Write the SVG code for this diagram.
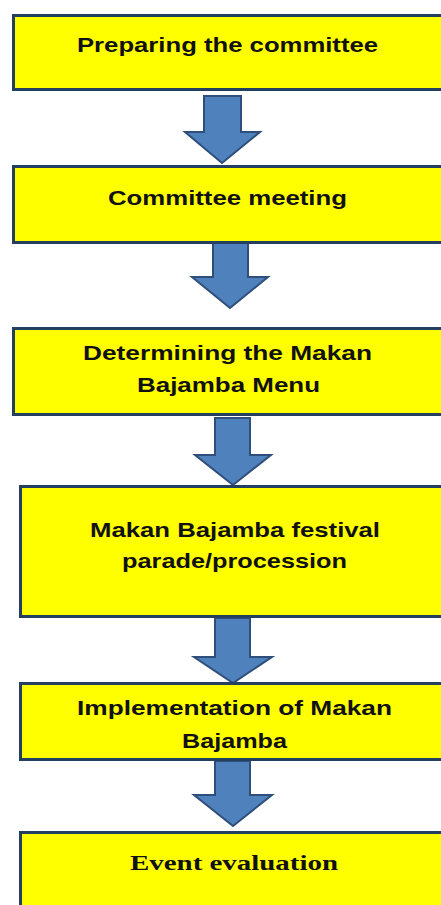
<svg xmlns="http://www.w3.org/2000/svg" width="441" height="905" viewBox="0 0 441 905">
<style>
.box{fill:#FFFF00;stroke:#243F60;stroke-width:3}
.t{font-family:"Liberation Sans",Arial,sans-serif;font-weight:bold;font-size:21px;fill:#111;text-anchor:middle}
.ts{font-family:"Liberation Serif","Times New Roman",serif;font-weight:bold;font-size:21px;fill:#111;text-anchor:middle}
.arr{fill:#4F81BD;stroke:#2F4F7A;stroke-width:2;stroke-linejoin:miter}
</style>
<rect width="441" height="905" fill="#FFFFFF"/>
<g id="connectors">
<polygon class="arr" points="204,96 241,96 241,132 260,132 222,163 185,132 204,132"/>
<polygon class="arr" points="213,243 248,243 248,277 268,277 230,308 192,277 213,277"/>
<polygon class="arr" points="215,418 250,418 250,455 271,455 233,485 195,455 215,455"/>
<polygon class="arr" points="215,618 250,618 250,657 272,657 233,683 194,657 215,657"/>
<polygon class="arr" points="215,761 250,761 250,795 272,795 233,826 194,795 215,795"/>
</g>
<g id="n1">
<rect class="box" x="13.5" y="15.5" width="440" height="74"/>
<text class="t" x="227.5" y="52" textLength="301" lengthAdjust="spacingAndGlyphs">Preparing the committee</text>
</g>
<g id="n2">
<rect class="box" x="13.5" y="166.5" width="440" height="76"/>
<text class="t" x="227.5" y="205" textLength="239" lengthAdjust="spacingAndGlyphs">Committee meeting</text>
</g>
<g id="n3">
<rect class="box" x="13.5" y="328.5" width="440" height="86"/>
<text class="t" x="227.5" y="360" textLength="289" lengthAdjust="spacingAndGlyphs">Determining the Makan</text>
<text class="t" x="228.5" y="392" textLength="183" lengthAdjust="spacingAndGlyphs">Bajamba Menu</text>
</g>
<g id="n4">
<rect class="box" x="20.5" y="486.5" width="440" height="130"/>
<text class="t" x="235" y="537" textLength="290" lengthAdjust="spacingAndGlyphs">Makan Bajamba festival</text>
<text class="t" x="234.5" y="568" textLength="225" lengthAdjust="spacingAndGlyphs">parade/procession</text>
</g>
<g id="n5">
<rect class="box" x="20.5" y="683.5" width="440" height="76"/>
<text class="t" x="234.5" y="715" textLength="315" lengthAdjust="spacingAndGlyphs">Implementation of Makan</text>
<text class="t" x="234.5" y="748" textLength="105" lengthAdjust="spacingAndGlyphs">Bajamba</text>
</g>
<g id="n6">
<rect class="box" x="20.5" y="832.5" width="440" height="100"/>
<text class="ts" x="234" y="870" textLength="208" lengthAdjust="spacingAndGlyphs">Event evaluation</text>
</g>
</svg>
